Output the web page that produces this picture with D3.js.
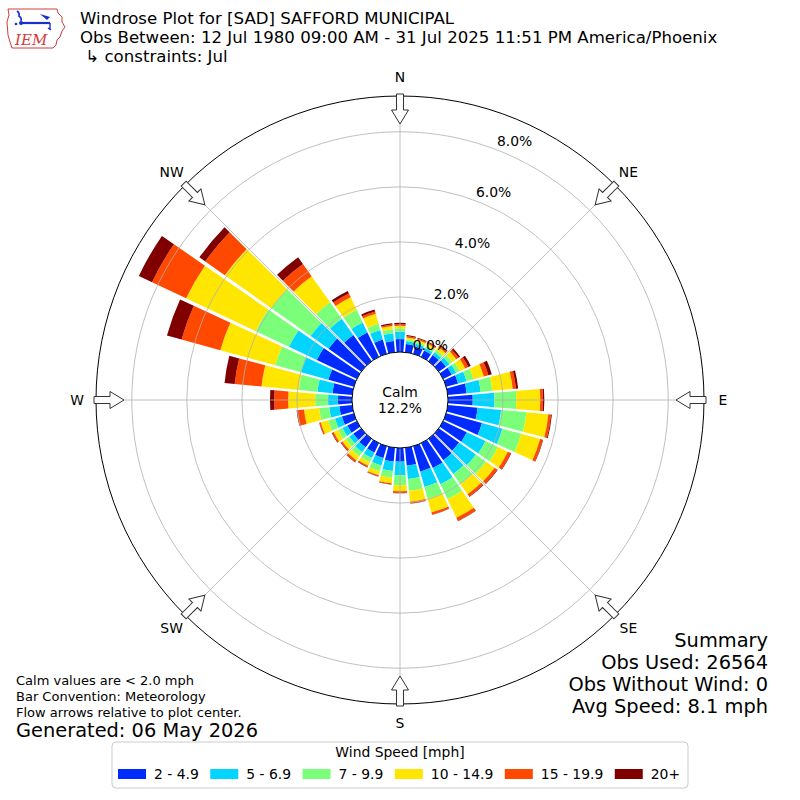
<!DOCTYPE html>
<html><head><meta charset="utf-8">
<script src="https://cdn.jsdelivr.net/npm/d3@7"></script>
<style>
body{margin:0;background:#fff}
svg{display:block}
text{font-family:"DejaVu Sans",sans-serif;fill:#000}
</style>
</head><body>
<svg id="chart" width="800" height="800"></svg>
<script>
// ---------------- data ----------------
const directions = [0,10,20,30,40,50,60,70,80,90,100,110,120,130,140,150,160,170,
                    180,190,200,210,220,230,240,250,260,270,280,290,300,310,320,330,340,350];
const speedBins = ["2 - 4.9","5 - 6.9","7 - 9.9","10 - 14.9","15 - 19.9","20+"];
// percent of observations per direction for each speed bin
const pct2to4 = [0.47,0.30,0.28,0.26,0.28,0.32,0.35,0.45,0.69,0.90,1.09,1.35,0.95,0.90,0.95,1.00,0.96,0.65,
                 0.50,0.50,0.45,0.38,0.38,0.35,0.38,0.45,0.47,0.51,0.72,0.96,1.61,1.45,1.16,0.98,0.54,0.41];
const pct5to6 = [0.27,0.10,0.10,0.10,0.12,0.15,0.17,0.32,0.51,0.79,0.86,0.77,0.75,0.75,0.62,0.65,0.58,0.49,
                 0.49,0.35,0.28,0.22,0.22,0.18,0.20,0.26,0.37,0.36,0.55,1.03,1.12,0.80,0.73,0.40,0.36,0.28];
const pct7to9 = [0.12,0.07,0.07,0.08,0.10,0.13,0.15,0.26,0.43,0.79,0.92,0.71,0.50,0.45,0.45,0.60,0.45,0.43,
                 0.36,0.25,0.22,0.17,0.18,0.16,0.18,0.26,0.37,0.47,0.68,0.97,1.33,1.75,0.73,0.51,0.23,0.15];
const pct10to14 = [0.09,0.07,0.08,0.09,0.13,0.18,0.22,0.39,0.74,0.87,0.80,0.71,0.40,0.38,0.45,0.75,0.51,0.40,
                   0.22,0.20,0.15,0.14,0.18,0.15,0.17,0.28,0.55,0.98,1.36,2.07,2.80,2.07,1.16,0.51,0.38,0.12];
const pct15to19 = [0.06,0.05,0.05,0.05,0.07,0.10,0.12,0.17,0.12,0.10,0.10,0.10,0.12,0.12,0.10,0.12,0.08,0.06,
                   0.06,0.04,0.04,0.05,0.07,0.06,0.06,0.05,0.25,0.51,0.98,1.46,1.37,0.87,0.55,0.15,0.09,0.05];
const pct20plus = [0.05,0.04,0.03,0.03,0.04,0.07,0.10,0.13,0.08,0.05,0.03,0.02,0.02,0.02,0.02,0.02,0.01,0.01,
                   0.01,0.01,0.01,0.02,0.02,0.02,0.02,0.01,0.02,0.15,0.37,0.55,0.53,0.26,0.30,0.10,0.07,0.05];
const radialTicks = [0,2,4,6,8];
const compassLabels = ["N","NE","E","SE","S","SW","W","NW"];
const compassAngles = [0,45,90,135,180,225,270,315];
const calmPct = "12.2%";
const titleLines = ["Windrose Plot for [SAD] SAFFORD MUNICIPAL",
  "Obs Between: 12 Jul 1980 09:00 AM - 31 Jul 2025 11:51 PM America/Phoenix",
  " \u21b3 constraints: Jul"];
const summaryLines = ["Summary","Obs Used: 26564","Obs Without Wind: 0","Avg Speed: 8.1 mph"];
const noteLines = ["Calm values are < 2.0 mph","Bar Convention: Meteorology","Flow arrows relative to plot center."];
const generatedText = "Generated: 06 May 2026";
const legendTitle = "Wind Speed [mph]";

// ---------------- styling ----------------
const binColors = ["#002bff","#00d4ff","#7bff7b","#ffe600","#ff4900","#800000"];
const cx = 400, cy = 400;
const rMaxPct = 9.3;
const r = d3.scaleLinear().domain([0, rMaxPct]).range([48, 304]);
const rad = d => d * Math.PI / 180;

const svg = d3.select("#chart");
const keys = ["b0","b1","b2","b3","b4","b5"];
const table = directions.map((d,i)=>({dir:d, b0:pct2to4[i], b1:pct5to6[i], b2:pct7to9[i],
  b3:pct10to14[i], b4:pct15to19[i], b5:pct20plus[i]}));
const stacked = d3.stack().keys(keys)(table);

const plot = svg.append("g").attr("transform", `translate(${cx},${cy})`);

// bars
const halfW = 4.7;
const arc = d3.arc().padAngle(0.012).padRadius(100);
stacked.forEach((layer,k)=>{
  plot.append("g").selectAll("path").data(layer).join("path")
    .attr("d", p => arc({innerRadius:r(p[0]), outerRadius:r(p[1]),
        startAngle:rad(p.data.dir-halfW), endAngle:rad(p.data.dir+halfW)}))
    .attr("fill", binColors[k]);
});

// grid
const grid = plot.append("g").attr("fill","none").attr("stroke","#b0b0b0").attr("stroke-width",0.8);
grid.selectAll("circle").data(radialTicks.filter(v=>v>0)).join("circle").attr("r", v=>r(v));
grid.selectAll("line").data(compassAngles).join("line")
  .attr("x1", a=>r(0)*Math.sin(rad(a))).attr("y1", a=>-r(0)*Math.cos(rad(a)))
  .attr("x2", a=>r(rMaxPct)*Math.sin(rad(a))).attr("y2", a=>-r(rMaxPct)*Math.cos(rad(a)));

// outer circle
plot.append("circle").attr("r", r(rMaxPct)).attr("fill","none").attr("stroke","#000").attr("stroke-width",1);

// calm circle
plot.append("circle").attr("r", r(0)).attr("fill","#fff").attr("stroke","#000").attr("stroke-width",1);
plot.append("text").attr("text-anchor","middle").attr("y",-8).attr("dominant-baseline","central")
  .style("font-size","13.9px").text("Calm");
plot.append("text").attr("text-anchor","middle").attr("y",8).attr("dominant-baseline","central")
  .style("font-size","13.9px").text(calmPct);

// arrows
const R = r(rMaxPct);
const arrowPath = `M -3.5,${-R-2} L 3.5,${-R-2} L 3.5,${-R+14} L 8.5,${-R+14} L 0,${-R+28} L -8.5,${-R+14} L -3.5,${-R+14} Z`;
plot.append("g").selectAll("path").data(compassAngles).join("path")
  .attr("d", arrowPath).attr("transform", a=>`rotate(${a})`)
  .attr("fill","#fff").attr("stroke","#333").attr("stroke-width",1);

// compass labels
plot.append("g").selectAll("text").data(compassLabels).join("text")
  .attr("x",(t,i)=>(R+19)*Math.sin(rad(compassAngles[i])))
  .attr("y",(t,i)=>-(R+19)*Math.cos(rad(compassAngles[i])))
  .attr("text-anchor","middle").attr("dominant-baseline","central")
  .style("font-size","13.9px").text(t=>t);

// radial labels
plot.append("g").selectAll("text").data(radialTicks).join("text")
  .attr("x", v=>r(v)*Math.sin(rad(22.5))+12)
  .attr("y", v=>-r(v)*Math.cos(rad(22.5))-11)
  .attr("text-anchor","middle").attr("dominant-baseline","central")
  .style("font-size","13.9px").text(v=>v.toFixed(1)+"%");

// title
svg.append("g").selectAll("text").data(titleLines).join("text")
  .attr("x",80).attr("y",(t,i)=>23.6+i*19.4).style("font-size","16.6px")
  .attr("xml:space","preserve").style("white-space","pre").text(t=>t);

// logo
const logo = svg.append("g");
logo.append("path").attr("d","M8,9 L57,9 L58,13 L62,17 L62,22 L65,27 L62,31 L60,37 L57,40 L56,45 L53,48 L12,48 L10,42 L8,35 L7,22 L9,15 Z")
  .attr("fill","none").attr("stroke","#d43c3c").attr("stroke-width",1);
logo.append("line").attr("x1",21).attr("y1",23).attr("x2",50).attr("y2",23).attr("stroke","#1a2fd0").attr("stroke-width",2.2);
logo.append("path").attr("d","M17,11 Q20,13 19,16 Q22,18 21,21").attr("fill","none").attr("stroke","#1a2fd0").attr("stroke-width",1.6);
logo.append("circle").attr("cx",21).attr("cy",23).attr("r",2).attr("fill","#1a2fd0");
logo.append("path").attr("d","M40,14 L50,17 L47,20 Z").attr("fill","#1a2fd0");
logo.append("path").attr("d","M50,23 L50,30 M48,28 L51,30").attr("fill","none").attr("stroke","#1a2fd0").attr("stroke-width",1.4);
logo.append("circle").attr("cx",16).attr("cy",24).attr("r",1.3).attr("fill","#1a2fd0");
logo.append("text").attr("x",15).attr("y",45).style("font-family","'DejaVu Serif',serif").style("font-style","italic")
  .style("font-size","15px").style("fill","#d43c3c").text("IEM");

// notes
svg.append("g").selectAll("text").data(noteLines).join("text")
  .attr("x",16).attr("y",(t,i)=>680+i*16).attr("dominant-baseline","central")
  .style("font-size","13px").text(t=>t);
svg.append("text").attr("x",16).attr("y",730).attr("dominant-baseline","central")
  .style("font-size","19.4px").text(generatedText);

// summary
svg.append("g").selectAll("text").data(summaryLines).join("text")
  .attr("x",768).attr("y",(t,i)=>640+i*22).attr("text-anchor","end").attr("dominant-baseline","central")
  .style("font-size","19.4px").text(t=>t);

// legend
const lg = svg.append("g");
lg.append("rect").attr("x",112).attr("y",742).attr("width",576).attr("height",46)
  .attr("rx",4).attr("fill","#fff").attr("stroke","#cccccc").attr("stroke-width",1);
lg.append("text").attr("x",400).attr("y",752).attr("text-anchor","middle").attr("dominant-baseline","central")
  .style("font-size","13.9px").text(legendTitle);
const items = lg.selectAll("g.item").data(speedBins).join("g").attr("class","item");
items.append("rect").attr("width",28).attr("height",10).attr("y",769).attr("fill",(d,i)=>binColors[i]);
items.append("text").attr("y",774).attr("dominant-baseline","central").style("font-size","13.9px").text(d=>d);
let xPos = 118;
items.each(function(){
  const g = d3.select(this);
  g.select("rect").attr("x", xPos);
  const t = g.select("text").attr("x", xPos+36);
  xPos += 36 + t.node().getComputedTextLength() + 11.5;
});
</script>
</body></html>
